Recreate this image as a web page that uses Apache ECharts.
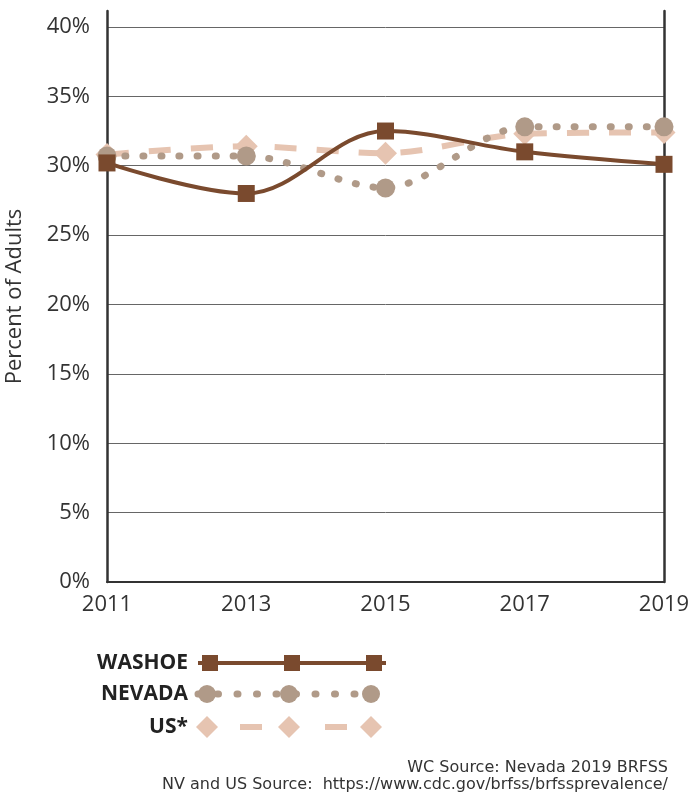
<!DOCTYPE html>
<html><head><meta charset="utf-8">
<script src="https://cdn.jsdelivr.net/npm/echarts@6/dist/echarts.min.js"></script>
<style>html,body{margin:0;padding:0;background:#fff}#c{width:688px;height:795px}</style>
</head><body><div id="c"></div>
<script>
const years = ['2011','2013','2015','2017','2019'];
const washoe = [30.2, 28.0, 32.5, 31.0, 30.1];
const nevada = [30.7, 30.7, 28.4, 32.8, 32.8];
const us = [30.8, 31.4, 30.9, 32.3, 32.4];
const yTicks = [0,5,10,15,20,25,30,35,40];

const cW = '#7a4a2e', cN = '#b09a88', cU = '#e6c4b1';
const FONT = '"Open Sans", sans-serif';
const chart = echarts.init(document.getElementById('c'), null, {renderer:'canvas'});

function legendRow(y, label, color, kind){
  const els = [{type:'text', style:{text:label, x:188, y:y, align:'right', verticalAlign:'middle', font:'bold 21px '+FONT, fill:'#222'}}];
  const xs=[210,292,374];
  if(kind==='w'){
    els.push({type:'line', shape:{x1:198,y1:y,x2:386,y2:y}, style:{stroke:color,lineWidth:4}});
    xs.forEach(x=>els.push({type:'rect', shape:{x:x-8,y:y-8,width:16,height:16}, style:{fill:color}}));
  } else if(kind==='n'){
    els.push({type:'line', shape:{x1:198,y1:y,x2:388,y2:y}, style:{stroke:color,lineWidth:7,lineDash:[1,18.5],lineCap:'round'}});
    xs.forEach(x=>els.push({type:'circle', shape:{cx:x-3,cy:y,r:9}, style:{fill:color}}));
  } else {
    [[240,262],[325,347]].forEach(s=>els.push({type:'line', shape:{x1:s[0],y1:y,x2:s[1],y2:y}, style:{stroke:color,lineWidth:6}}));
    xs.forEach(x=>els.push({type:'polygon', shape:{points:[[x-3-11,y],[x-3,y-11],[x-3+11,y],[x-3,y+11]]}, style:{fill:color}}));
  }
  return els;
}

chart.setOption({
  animation:false,
  textStyle:{fontFamily:FONT},
  grid:{left:107,right:24,top:11,bottom:213,outerBoundsMode:'none',containLabel:false},
  xAxis:{type:'category', data:years, boundaryGap:false,
    axisLine:{lineStyle:{color:'#333',width:2}}, axisTick:{show:false},
    axisLabel:{color:'#333',fontSize:22,margin:12,fontFamily:FONT}, splitLine:{show:false}},
  yAxis:[{type:'value', min:0, max:41.15, interval:5,
    name:'Percent of Adults', nameLocation:'middle', nameRotate:90, nameGap:81,
    nameTextStyle:{color:'#333',fontSize:22,fontFamily:FONT},
    axisLine:{show:true,lineStyle:{color:'#333',width:2.5}}, axisTick:{show:false},
    axisLabel:{color:'#333',fontSize:22,margin:17,fontFamily:FONT,showMaxLabel:false,
      formatter:v=>yTicks.includes(v)?v+'%':''},
    splitLine:{show:true,showMaxLine:false,lineStyle:{color:'#666',width:1}}},
   {type:'value', min:0, max:41.15, interval:5, position:'right',
    axisLine:{show:true,lineStyle:{color:'#333',width:2.5}}, axisTick:{show:false},
    axisLabel:{show:false}, splitLine:{show:false}}],
  series:[
    {name:'US*', type:'line', data:us, smooth:0.3, symbol:'diamond', symbolSize:23,
      itemStyle:{color:cU}, lineStyle:{color:cU,width:6,type:[22,20]}, z:2},
    {name:'NEVADA', type:'line', data:nevada, smooth:0.3, symbol:'circle', symbolSize:19,
      itemStyle:{color:cN}, lineStyle:{color:cN,width:7,type:[1,17],cap:'round'}, z:3},
    {name:'WASHOE', type:'line', data:washoe, smooth:0.35, symbol:'rect', symbolSize:17,
      itemStyle:{color:cW}, lineStyle:{color:cW,width:4}, z:4}
  ],
  graphic:[
    ...legendRow(663,'WASHOE',cW,'w'),
    ...legendRow(694,'NEVADA',cN,'n'),
    ...legendRow(727,'US*',cU,'u'),
    {type:'text', style:{text:'WC Source: Nevada 2019 BRFSS', x:668, y:768, align:'right', verticalAlign:'middle', font:'16px "DejaVu Sans", sans-serif', fill:'#333'}},
    {type:'text', style:{text:'NV and US Source:  https://www.cdc.gov/brfss/brfssprevalence/', x:668, y:785, align:'right', verticalAlign:'middle', font:'16px "DejaVu Sans", sans-serif', fill:'#333'}}
  ]
});
</script></body></html>
